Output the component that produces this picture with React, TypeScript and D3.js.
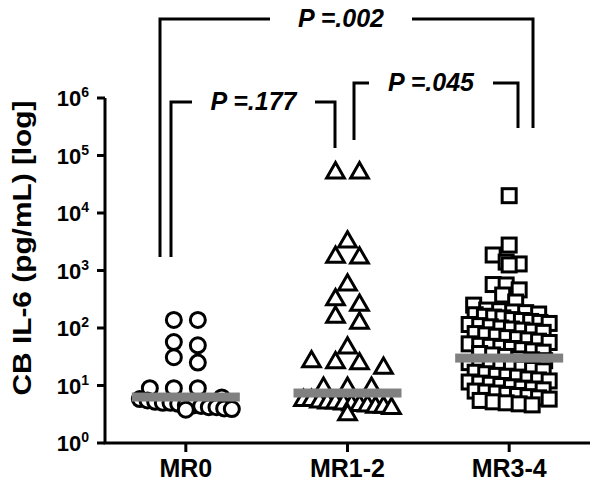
import React from "react";
import * as d3 from "d3";

const categories = ["MR0", "MR1-2", "MR3-4"];

const mr0Values = [138, 138, 57, 50, 31, 25, 9, 9, 9, 6.2, 5.8, 5.5, 5.2, 5, 5, 4.8, 4.6, 4.5, 4.4, 4.2, 4.2, 4.0, 3.9, 3.8];
const mr12Values = [50000, 50000, 3150, 1700, 1650, 560, 310, 250, 155, 122, 45, 26, 25, 24, 20, 9, 9, 9, 5.5, 5.5, 5.2, 5, 5, 4.8, 4.6, 4.5, 4.4, 4.2, 4.2, 4, 3.1];
const mr34Values = [20000, 2770, 1860, 1400, 1300, 1250, 570, 560, 460, 375, 283, 250, 205,
  200, 190, 185, 175, 170, 160, 155, 150, 140, 135, 130, 125, 120, 115, 110, 105, 100, 96, 92, 88, 84, 80,
  76, 72, 68, 65, 62, 59, 56, 53, 50, 48, 46, 44, 42, 40, 38, 36, 34, 32,
  29, 28, 27, 25, 24, 23, 22, 21, 20, 19, 18, 17, 16, 15, 14.5, 14, 13, 12.5, 12, 11.5, 11, 10.5, 10, 9.5,
  9, 8.7, 8.4, 8, 7.7, 7.4, 7, 6.7, 6.4, 6.1, 5.8, 5.5, 5.2, 5, 4.8, 4.6];
const medians = [6.3, 7.4, 30];

const yTickExps = [0, 1, 2, 3, 4, 5, 6];

const pLabels = ["P =.177", "P =.045", "P =.002"];

const W = 600, H = 488;
const x = d3.scaleBand<string>().domain(categories).range([105, 590]);
const y = d3.scaleLog().domain([1, 1e6]).range([443, 98]);

// Prism-like column scatter: group points into horizontal rows, spread each row symmetrically
function scatterRows(values: number[], rowH: number, step: number, maxHalf: number, stagger: number) {
  const pts = values.map((v) => ({ v, py: y(v), dx: 0 })).sort((a, b) => a.py - b.py);
  let i = 0;
  let row = 0;
  while (i < pts.length) {
    let j = i;
    while (j + 1 < pts.length && pts[j + 1].py - pts[i].py < rowH) j++;
    const n = j - i + 1;
    const s = n > 1 ? Math.min(step, (2 * maxHalf) / (n - 1)) : 0;
    const shift = n > 2 ? (row % 2 ? stagger : -stagger) : 0;
    for (let k = 0; k < n; k++) pts[i + k].dx = (k - (n - 1) / 2) * s + shift;
    i = j + 1;
    row++;
  }
  return pts;
}

const cx = (c: string) => (x(c) as number) + x.bandwidth() / 2;

export default function App() {
  const g0 = scatterRows(mr0Values, 10, 24, 46, 0);
  const g1 = scatterRows(mr12Values, 10, 24, 44, 0);
  const g2 = scatterRows(mr34Values, 9, 13, 37, 3);
  const tri = d3.symbol().type(d3.symbolTriangle).size(135)() as string;
  const sw = 3;
  const font = "Liberation Sans, Arial, sans-serif";

  const bracket = (x1: number, x2: number, ty: number, y1: number, y2: number, gapL: number, gapR: number, label: string, key: string) => (
    <g key={key}>
      <path d={`M${x1},${y1}V${ty}H${gapL}M${gapR},${ty}H${x2}V${y2}`} fill="none" stroke="#000" strokeWidth={sw} />
      <text x={(gapL + gapR) / 2} y={ty + 8} textAnchor="middle" fontFamily={font} fontWeight="bold" fontStyle="italic" fontSize={25}>{label}</text>
    </g>
  );

  return (
    <svg width={W} height={H} style={{ position: "absolute", left: 0, top: 0, background: "#fff" }}>
      <rect width={W} height={H} fill="#fff" />
      {g0.map((p, i) => (
        <circle key={"c" + i} cx={cx(categories[0]) + p.dx} cy={p.py} r={7.5} fill="#fff" stroke="#000" strokeWidth={sw} />
      ))}
      {g1.map((p, i) => (
        <path key={"t" + i} d={tri} transform={`translate(${cx(categories[1]) + p.dx},${p.py})`} fill="#fff" stroke="#000" strokeWidth={sw} strokeLinejoin="miter" />
      ))}
      {g2.map((p, i) => (
        <rect key={"s" + i} x={cx(categories[2]) + p.dx - 7} y={p.py - 7} width={14} height={14} fill="#fff" stroke="#000" strokeWidth={sw} />
      ))}
      {medians.map((m, i) => (
        <rect key={"m" + i} x={cx(categories[i]) - 54} y={y(m) - 4.5} width={108} height={9} fill="#808080" />
      ))}
      <path d={`M105,${y(1e6)}V${y(1)}H590`} fill="none" stroke="#000" strokeWidth={sw} />
      {yTickExps.map((e) => (
        <g key={"yt" + e}>
          <line x1={97} x2={105} y1={y(Math.pow(10, e))} y2={y(Math.pow(10, e))} stroke="#000" strokeWidth={sw} />
          <text x={89} y={y(Math.pow(10, e)) + 8} textAnchor="end" fontFamily={font} fontWeight="bold" fontSize={22}>
            10<tspan dy={-9} fontSize={14}>{e}</tspan>
          </text>
        </g>
      ))}
      {categories.map((c) => (
        <g key={"xt" + c}>
          <line x1={cx(c)} x2={cx(c)} y1={443} y2={452} stroke="#000" strokeWidth={sw} />
          <text x={cx(c)} y={477} textAnchor="middle" fontFamily={font} fontWeight="bold" fontSize={25}>{c}</text>
        </g>
      ))}
      <text transform={`translate(31,248) rotate(-90)`} textAnchor="middle" fontFamily={font} fontWeight="bold" fontSize={26} textLength={295} lengthAdjust="spacingAndGlyphs">CB IL-6 (pg/mL) [log]</text>
      {bracket(171, 335, 102, 257, 148, 192, 315, pLabels[0], "b1")}
      {bracket(354, 518, 83, 140, 128, 369, 493, pLabels[1], "b2")}
      {bracket(160, 533, 19, 257, 128, 270, 412, pLabels[2], "b3")}
    </svg>
  );
}
